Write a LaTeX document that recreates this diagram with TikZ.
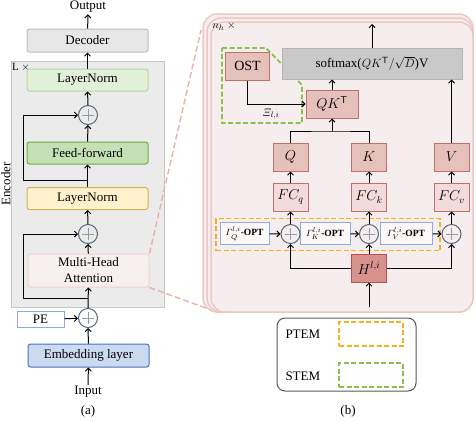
\documentclass[tikz,border=0pt]{standalone}
\usepackage{amsmath}
\usepackage{amssymb}
\usepackage[no-math]{fontspec}
\setmainfont{Liberation Serif}
\usepackage{xcolor}
\usepackage{tikz}
\usetikzlibrary{arrows.meta}
\definecolor{encgray}{HTML}{EBEBEB}
\definecolor{encedge}{HTML}{C6C6C6}
\definecolor{decfill}{HTML}{E7E7E7}
\definecolor{decedge}{HTML}{BDBDBD}
\definecolor{lnfill}{HTML}{E2F0D9}
\definecolor{lnedge}{HTML}{B5D99C}
\definecolor{fffill}{HTML}{C5E0B4}
\definecolor{ffedge}{HTML}{70AD47}
\definecolor{ynfill}{HTML}{FFF2CC}
\definecolor{ynedge}{HTML}{D6B04A}
\definecolor{mhafill}{HTML}{F8EFEF}
\definecolor{mhaedge}{HTML}{F2D2D0}
\definecolor{embfill}{HTML}{CBD9F1}
\definecolor{embedge}{HTML}{4A72C0}
\definecolor{peedge}{HTML}{8FAADC}
\definecolor{plusring}{HTML}{56647A}
\definecolor{plusbar}{HTML}{9A9A9A}
\definecolor{pagefill}{HTML}{F6EEEE}
\definecolor{pageedge}{HTML}{EBC8C3}
\definecolor{zoomedge}{HTML}{E8B0A8}
\definecolor{redfill}{HTML}{E6C0BA}
\definecolor{rededge}{HTML}{C1706A}
\definecolor{fcfill}{HTML}{F2DBDA}
\definecolor{hfill}{HTML}{D7928D}
\definecolor{hedge}{HTML}{C0504D}
\definecolor{smfill}{HTML}{C9C9C9}
\definecolor{smedge}{HTML}{B5B5B5}
\definecolor{ptemcol}{HTML}{F5B01E}
\definecolor{stemcol}{HTML}{8CC04A}
\definecolor{legedge}{HTML}{595959}
\def\bw{121pt}
\def\bh{23pt}
\def\sw{35pt}
\def\sh{28pt}
\def\plusR{6pt}

\begin{document}
\begin{tikzpicture}[
    x=1pt, y=-1pt,
    line width=1pt,
    >={Straight Barb[length=3pt,width=6pt]},
    font=\fontsize{13}{15}\selectfont,
    box/.style={draw, rectangle, rounded corners=2.5pt, minimum width=\bw, minimum height=\bh, inner sep=0pt},
    sq/.style={draw=rededge, fill=redfill, rectangle, minimum width=\sw, minimum height=\sh, inner sep=0pt, font=\fontsize{14}{16}\selectfont},
    opt/.style={draw=peedge, fill=white!60!pagefill, rectangle, minimum height=22pt, inner sep=0pt, font=\fontsize{9.5}{11}\selectfont},
    addop/.style={circle, draw=plusring, minimum size=19pt, inner sep=0pt,
        path picture={\draw[plusbar, line width=0.8pt]
            ([xshift=-\plusR]path picture bounding box.center) -- ([xshift=\plusR]path picture bounding box.center)
            ([yshift=-\plusR]path picture bounding box.center) -- ([yshift=\plusR]path picture bounding box.center);}},
    ptem/.style={draw=ptemcol, line width=1.8pt, dash pattern=on 5pt off 2.5pt},
    stem/.style={draw=stemcol, line width=1.8pt, dash pattern=on 5pt off 2.5pt},
    zoomline/.style={draw=zoomedge, line width=1.4pt, dash pattern=on 6pt off 3pt},
    txt/.style={inner sep=1pt}
]
\useasboundingbox (0,0) rectangle (476,421);

% ---- (a) encoder ----
\node[draw=encedge, fill=encgray, minimum width=153pt, minimum height=246pt, inner sep=0pt] (enc) at (87.5,184) {};
\node[txt, font=\fontsize{11}{13}\selectfont] (lx) at (21,67) {L $\times$};
\node[txt, rotate=90] (enclab) at (6,184) {Encoder};

\node[txt] (out) at (88,7) {Output};
\node[box, draw=decedge, fill=decfill] (dec) at (87.5,40.5) {Decoder};
\node[box, draw=lnedge, fill=lnfill, minimum height=22pt] (ln2) at (87.5,80) {LayerNorm};
\node[addop] (add2) at (88,115) {};
\node[box, draw=ffedge, fill=fffill, minimum height=22pt] (ff) at (87.5,153) {Feed-forward};
\node[box, draw=ynedge, fill=ynfill, minimum height=22pt] (ln1) at (87.5,198.5) {LayerNorm};
\node[addop] (add1) at (88,234) {};
\node[box, draw=mhaedge, fill=mhafill, minimum height=33pt, align=center, font=\fontsize{13}{16}\selectfont] (mha) at (88.5,270.5) {Multi-Head\\Attention};
\node[addop, fill=white] (addpe) at (88,318) {};
\node[draw=peedge, fill=white, minimum width=47pt, minimum height=16pt, inner sep=0pt] (pe) at (40.5,319.5) {PE};
\node[box, draw=embedge, fill=embfill] (emb) at (88.5,355.5) {Embedding layer};
\node[txt] (inp) at (88,392) {Input};
\node[txt] (capa) at (88,411) {(a)};

\coordinate (skipA) at (88,298);
\coordinate (skipB) at (88,180);
\draw[->] (inp) -- (emb);
\draw[->] (emb) -- (addpe);
\draw[->] (pe) -- (addpe);
\draw[->] (addpe) -- (mha);
\draw[->] (mha) -- (add1);
\draw[->] (add1) -- (ln1);
\draw[->] (ln1) -- (ff);
\draw[->] (ff) -- (add2);
\draw[->] (add2) -- (ln2);
\draw[->] (ln2) -- (dec);
\draw[->] (dec) -- (out);
\draw[->] (skipA) -- ++(-65,0) |- (add1);
\draw[->] (skipB) -- ++(-65,0) |- (add2);

% ---- zoom lines ----
\coordinate (zoomT) at (201,30);
\coordinate (zoomB) at (214,311);
\draw[zoomline] (mha.north east) -- (zoomT);
\draw[zoomline] (mha.south east) -- (zoomB);

% ---- (b) head pages ----
\draw[draw=pageedge, fill=pagefill, line width=1.5pt, rounded corners=14pt] (203,14) rectangle (473,312);
\draw[draw=pageedge, fill=pagefill, line width=1.5pt, rounded corners=14pt] (207,18) rectangle (473,312);
\draw[draw=pageedge, fill=pagefill, line width=1.5pt, rounded corners=14pt] (211,22) rectangle (473,312);
\node[txt, font=\fontsize{11}{13}\selectfont] (nh) at (224,26) {$n_h$ $\times$};

\draw[stem] (222,48) -- (266,48) -- (302,85) -- (302,123) -- (222,123) -- cycle;
\node[ptem, minimum width=224pt, minimum height=32pt, inner sep=0pt] (ptembox) at (328,234.5) {};

\node[sq, minimum width=44pt] (ost) at (247.5,66) {OST};
\node[draw=smedge, fill=smfill, minimum width=180pt, minimum height=31pt, inner sep=0pt] (smax) at (372,63.5) {softmax($QK^{\mathsf{T}}/\sqrt{D}$)V};
\node[sq, minimum width=52pt] (qk) at (332,104) {$QK^{\mathsf{T}}$};
\node[sq] (q) at (290.5,157) {$Q$};
\node[sq] (k) at (369,157) {$K$};
\node[sq] (v) at (451.5,157) {$V$};
\node[sq, fill=fcfill] (fcq) at (290.5,197) {$FC_q$};
\node[sq, fill=fcfill] (fck) at (369,197) {$FC_k$};
\node[sq, fill=fcfill] (fcv) at (451.5,197) {$FC_v$};
\node[opt, minimum width=49pt] (gq) at (244.5,233.5) {$\varGamma^{l,i}_{Q}$\textbf{-OPT}};
\node[opt, minimum width=50pt] (gk) at (325,233.5) {$\varGamma^{l,i}_{K}$\textbf{-OPT}};
\node[opt, minimum width=52pt] (gv) at (406,233.5) {$\varGamma^{l,i}_{V}$\textbf{-OPT}};
\node[addop] (addq) at (290.5,234) {};
\node[addop] (addk) at (369,234) {};
\node[addop] (addv) at (451.5,234) {};
\node[sq, draw=hedge, fill=hfill] (h) at (369,268) {$H^{l,i}$};
\node[txt, font=\fontsize{11}{13}\selectfont] (xi) at (271,114) {$\varXi_{l,i}$};

\coordinate (headout) at (372,24);
\coordinate (headin) at (369,307);
\coordinate (qkjoin) at (332,131);
\draw[->] (smax.north -| headout) -- (headout);
\draw[->] (ost.south) |- (qk.west);
\draw[->] (qk.north) -- (qk.north |- smax.south);
\draw (q.north) |- (qkjoin) -| (k.north);
\draw[->] (qkjoin) -- (qk.south);
\draw[->] (v.north) -- (v.north |- smax.south);
\draw[->] (fcq) -- (q);
\draw[->] (fck) -- (k);
\draw[->] (fcv) -- (v);
\draw[->] (addq) -- (fcq);
\draw[->] (addk) -- (fck);
\draw[->] (addv) -- (fcv);
\draw[->] (gq) -- (addq);
\draw[->] (gk) -- (addk);
\draw[->] (gv) -- (addv);
\draw[->] (h) -- (addk);
\draw[->] (h.west) -| (addq);
\draw[->] (h.east) -| (addv);
\draw[->] (headin) -- (h);

% ---- legend ----
\node[draw=legedge, rounded corners=8pt, minimum width=139pt, minimum height=73pt, inner sep=0pt] (legend) at (346.5,354.5) {};
\node[txt, anchor=west] (ptemlab) at (284,334) {PTEM};
\node[txt, anchor=west] (stemlab) at (284,376) {STEM};
\node[ptem, minimum width=64pt, minimum height=24pt, inner sep=0pt] (ptemkey) at (371,334) {};
\node[stem, minimum width=64pt, minimum height=24pt, inner sep=0pt] (stemkey) at (371,375) {};
\node[txt] (capb) at (348,411) {(b)};
\end{tikzpicture}
\end{document}
